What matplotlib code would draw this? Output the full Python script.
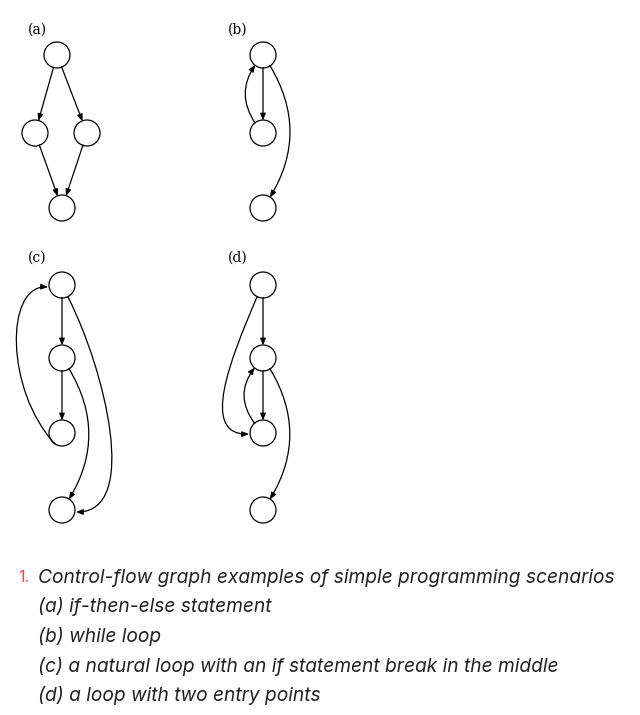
import matplotlib
matplotlib.use("Agg")
import matplotlib.pyplot as plt
from matplotlib.patches import Circle, FancyArrowPatch
from matplotlib.path import Path

# node centres (pixel coords of the reference), per graph
nodes = {
    "a": [(57, 55), (35, 133), (87, 133), (62, 208)],
    "b": [(263, 55), (263, 133), (263, 208)],
    "c": [(62, 285), (62, 358), (62, 433), (62, 510)],
    "d": [(263, 285), (263, 358), (263, 433), (263, 510)],
}
# edges: (from, to, arc rad)
edges = {
    "a": [(0, 1, 0.0), (0, 2, 0.0), (1, 3, 0.0), (2, 3, 0.0)],
    "b": [(0, 1, 0.0), (1, 0, -0.45), (0, 2, -0.35)],
    "c": [(0, 1, 0.0), (1, 2, 0.0), (1, 3, -0.35)],
    "d": [(0, 1, 0.0), (1, 2, 0.0), (2, 1, -0.5), (1, 3, -0.35)],
}
# long edges that end at the side of a node: cubic bezier (start, c1, c2, end)
curves = [
    [(55, 444), (5, 390), (5, 285), (48, 287)],      # (c) 3 -> 1
    [(68, 297), (105, 370), (140, 512), (76, 512)],   # (c) 1 -> 4
    [(257, 297), (230, 360), (200, 435), (249, 434)], # (d) 1 -> 3
]
label_pos = {"a": (37, 30), "b": (238, 30), "c": (37, 258), "d": (238, 258)}
caption = [
    "(a) if-then-else statement",
    "(b) while loop",
    "(c) a natural loop with an if statement break in the middle",
    "(d) a loop with two entry points",
]
R = 13
ARROW = "-|>,head_length=4,head_width=1.6"

fig = plt.figure(figsize=(6.4, 7.15), dpi=100)
ax = fig.add_axes([0, 0, 1, 1])
ax.set_xlim(0, 640)
ax.set_ylim(715, 0)
ax.axis("off")

for key, pts in nodes.items():
    circles = []
    for (x, y) in pts:
        c = Circle((x, y), R, fill=False, lw=0.9, ec="black")
        ax.add_patch(c)
        circles.append(c)
    for (i, j, rad) in edges[key]:
        arr = FancyArrowPatch(pts[i], pts[j], connectionstyle=f"arc3,rad={rad}",
                              arrowstyle=ARROW, patchA=circles[i], patchB=circles[j],
                              lw=0.9, color="black", shrinkA=0, shrinkB=0)
        ax.add_patch(arr)
    lx, ly = label_pos[key]
    ax.text(lx, ly, f"({key})", family="DejaVu Serif", fontsize=10, ha="center", va="center")

for cv in curves:
    p = Path(cv, [Path.MOVETO, Path.CURVE4, Path.CURVE4, Path.CURVE4])
    ax.add_patch(FancyArrowPatch(path=p, arrowstyle=ARROW, lw=0.9, color="black"))

fs = 13.8
ax.text(18, 578, "1.", color="#d9534f", fontsize=fs * 0.85, family="Inter", va="center")
ax.text(38, 578, "Control-flow graph examples of simple programming scenarios",
        fontsize=fs, family="Inter", style="italic", va="center", color="#222222")
for k, line in enumerate(caption):
    ax.text(38, 607 + 29.5 * k, line, fontsize=fs, family="Inter", style="italic",
            va="center", color="#222222")

fig.savefig("out.png", dpi=100)
